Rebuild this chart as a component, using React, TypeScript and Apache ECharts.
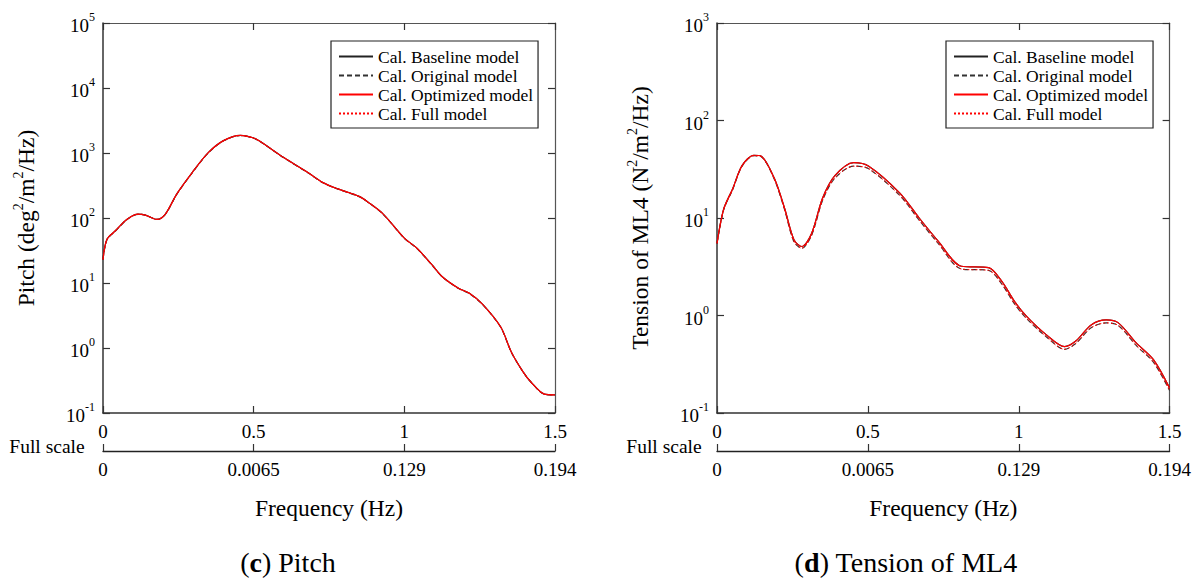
import React, { useEffect, useRef } from "react";
import * as echarts from "echarts";

const FONT = "Liberation Serif, Times New Roman, serif";

const seriesNames = ["Cal. Baseline model", "Cal. Original model", "Cal. Optimized model", "Cal. Full model"];

// (c) Pitch
const pitchFreq = [0, 0.013, 0.04, 0.08, 0.117, 0.143, 0.18, 0.207, 0.245, 0.296, 0.35, 0.4, 0.456, 0.5, 0.527, 0.6, 0.68, 0.73, 0.78, 0.85, 0.88, 0.93, 1.0, 1.04, 1.09, 1.125, 1.18, 1.215, 1.26, 1.32, 1.355, 1.394, 1.42, 1.465, 1.5];
const pitchBaseline = [23, 47, 63, 96, 115, 110, 95, 115, 235, 500, 1020, 1550, 1870, 1700, 1450, 850, 500, 350, 280, 215, 175, 115, 49, 35, 19.5, 12.6, 8.3, 7, 4.7, 2.1, 0.87, 0.43, 0.3, 0.195, 0.19];
const pitchOriginal = [23, 46, 62, 95, 114, 110, 95, 114, 232, 495, 1010, 1540, 1860, 1690, 1440, 845, 495, 348, 278, 213, 174, 114, 48.5, 34.5, 19.3, 12.5, 8.2, 6.9, 4.65, 2.08, 0.86, 0.43, 0.3, 0.194, 0.19];
const pitchOptimized = [23, 47, 63, 96, 115, 110, 95, 115, 235, 500, 1020, 1550, 1870, 1700, 1450, 850, 500, 350, 280, 215, 175, 115, 49, 35, 19.5, 12.6, 8.3, 7, 4.7, 2.1, 0.87, 0.43, 0.3, 0.195, 0.19];
const pitchFull = [23, 46, 62, 95, 114, 110, 95, 114, 232, 495, 1010, 1540, 1860, 1690, 1440, 845, 495, 348, 278, 213, 174, 114, 48.5, 34.5, 19.3, 12.5, 8.2, 6.9, 4.65, 2.08, 0.86, 0.43, 0.3, 0.194, 0.19];

// (d) Tension of ML4
const tensionFreq = [0, 0.022, 0.052, 0.083, 0.122, 0.147, 0.19, 0.224, 0.255, 0.281, 0.313, 0.35, 0.39, 0.453, 0.503, 0.606, 0.67, 0.733, 0.81, 0.9, 0.944, 0.987, 1.026, 1.09, 1.152, 1.19, 1.24, 1.29, 1.33, 1.39, 1.447, 1.5];
const tensionBaseline = [5.5, 12.3, 20, 34.5, 44, 43, 25.5, 12.6, 6.0, 5.1, 6.9, 16, 27, 37, 34, 18, 10, 5.8, 3.2, 3.1, 2.24, 1.38, 0.98, 0.64, 0.48, 0.55, 0.8, 0.9, 0.84, 0.52, 0.35, 0.18];
const tensionOriginal = [5.5, 12.1, 19.6, 34, 43.5, 42.5, 25, 12.2, 5.7, 4.9, 6.6, 15.2, 25.5, 34, 32, 17, 9.5, 5.5, 3.0, 2.9, 2.1, 1.3, 0.93, 0.61, 0.45, 0.52, 0.75, 0.84, 0.79, 0.49, 0.33, 0.17];
const tensionOptimized = [5.5, 12.3, 20, 34.5, 44, 43, 25.5, 12.6, 6.0, 5.1, 6.9, 16, 27, 37, 34, 18, 10, 5.8, 3.2, 3.1, 2.24, 1.38, 0.98, 0.64, 0.48, 0.55, 0.8, 0.9, 0.84, 0.52, 0.35, 0.18];
const tensionFull = [5.5, 12.1, 19.6, 34, 43.5, 42.5, 25, 12.2, 5.7, 4.9, 6.6, 15.2, 25.5, 34, 32, 17, 9.5, 5.5, 3.0, 2.9, 2.1, 1.3, 0.93, 0.61, 0.45, 0.52, 0.75, 0.84, 0.79, 0.49, 0.33, 0.17];

const mainTickLabels = ["0", "0.5", "1", "1.5"];
const fullScaleLabels = ["0", "0.0065", "0.129", "0.194"];

const lineStyles = [
  { color: "#222", width: 1.2, type: "solid" },
  { color: "#333", width: 1.2, type: [5, 3] },
  { color: "#f00", width: 1.2, type: "solid" },
  { color: "#f00", width: 1, type: [2, 2] },
];

function zip(xs: number[], ys: number[]) {
  return xs.map((x, i) => [x, ys[i]]);
}

const tickRich = {
  t: { fontFamily: FONT, fontSize: 19, color: "#000", lineHeight: 22 },
};

function xAxesFor(gi: number) {
  const common = {
    type: "value",
    gridIndex: gi,
    min: 0,
    max: 1.5,
    interval: 0.5,
    splitLine: { show: false },
  };
  return [
    {
      ...common,
      position: "bottom",
      axisLine: { show: true, onZero: false, lineStyle: { color: "#333", width: 1.5 } },
      axisTick: { show: true, inside: true, length: 7, lineStyle: { color: "#333", width: 1.2 } },
      axisLabel: {
        fontFamily: FONT,
        fontSize: 19,
        color: "#000",
        margin: 7,
        formatter: (v: number) => `{t|${mainTickLabels[Math.round(v / 0.5)] ?? ""}}`,
        rich: tickRich,
      },
    },
    {
      ...common,
      position: "top",
      axisLine: { show: true, onZero: false, lineStyle: { color: "#555", width: 1.2 } },
      axisTick: { show: true, inside: true, length: 7, lineStyle: { color: "#333", width: 1.2 } },
      axisLabel: { show: false },
    },
    {
      ...common,
      position: "bottom",
      offset: 38,
      axisLine: { show: true, onZero: false, lineStyle: { color: "#222", width: 1.3 } },
      axisTick: { show: true, inside: true, length: 7, lineStyle: { color: "#333", width: 1.2 } },
      axisLabel: {
        fontFamily: FONT,
        fontSize: 19,
        color: "#000",
        margin: 7,
        formatter: (v: number) => `{t|${fullScaleLabels[Math.round(v / 0.5)] ?? ""}}`,
        rich: tickRich,
      },
      name: "{f|Frequency (Hz)}",
      nameLocation: "middle",
      nameGap: 44,
      nameTextStyle: {
        fontFamily: FONT,
        fontSize: 23.5,
        color: "#000",
        rich: { f: { fontFamily: FONT, fontSize: 23.5, color: "#000", lineHeight: 26 } },
      },
    },
  ];
}

function yAxesFor(gi: number, max: number, split: number, name: string) {
  const common = {
    type: "log",
    logBase: 10,
    gridIndex: gi,
    min: 0.1,
    max,
    splitNumber: split,
    splitLine: { show: false },
    minorTick: { show: false },
  };
  return [
    {
      ...common,
      position: "left",
      axisLine: { show: true, onZero: false, lineStyle: { color: "#333", width: 1.5 } },
      axisTick: { show: true, inside: true, length: 7, lineStyle: { color: "#333", width: 1.2 } },
      axisLabel: {
        margin: 8,
        fontFamily: FONT,
        formatter: (v: number) => `{b|10}{s|${Math.round(Math.log10(v))}}`,
        rich: {
          b: { fontFamily: FONT, fontSize: 19, color: "#000", lineHeight: 24, verticalAlign: "bottom" },
          s: { fontFamily: FONT, fontSize: 12, color: "#000", lineHeight: 12, verticalAlign: "top" },
        },
      },
      name,
      nameLocation: "middle",
      nameGap: 62,
      nameTextStyle: {
        fontFamily: FONT,
        fontSize: 23.5,
        color: "#000",
        lineHeight: 30,
        rich: {
          n: { fontFamily: FONT, fontSize: 23.5, color: "#000", lineHeight: 30 },
          s: { fontFamily: FONT, fontSize: 14, color: "#000", lineHeight: 14, verticalAlign: "top" },
        },
      },
    },
    {
      ...common,
      position: "right",
      axisLine: { show: true, onZero: false, lineStyle: { color: "#555", width: 1.2 } },
      axisTick: { show: true, inside: true, length: 7, lineStyle: { color: "#333", width: 1.2 } },
      axisLabel: { show: false },
    },
  ];
}

function makeSeries(xi: number, yi: number, freq: number[], sets: number[][]) {
  return sets.map((vals, i) => ({
    type: "line",
    name: seriesNames[i],
    xAxisIndex: xi,
    yAxisIndex: yi,
    data: zip(freq, vals),
    symbol: "none",
    smooth: 0.3,
    lineStyle: lineStyles[i],
    itemStyle: { color: lineStyles[i].color },
    z: 2 + i,
  }));
}

function legendAt(left: number) {
  return {
    data: seriesNames,
    orient: "vertical",
    left,
    top: 41,
    itemWidth: 34,
    itemHeight: 12,
    itemGap: 0,
    padding: [6, 5, 5, 7],
    borderColor: "#222",
    borderWidth: 1.2,
    backgroundColor: "#fff",
    selectedMode: false,
    itemStyle: { opacity: 0 },
    textStyle: { fontFamily: FONT, fontSize: 17.5, color: "#000", lineHeight: 19 },
  };
}

function caption(x: number, letter: string, title: string) {
  return {
    type: "text",
    x,
    y: 562,
    style: {
      text: `{n|(}{b|${letter}}{n|) ${title}}`,
      align: "center",
      verticalAlign: "middle",
      rich: {
        n: { fontFamily: FONT, fontSize: 28, fill: "#000" },
        b: { fontFamily: FONT, fontSize: 28, fontWeight: "bold", fill: "#000" },
      },
    },
  };
}

function fullScaleText(x: number) {
  return {
    type: "text",
    x,
    y: 446,
    style: {
      text: "{t|Full scale}",
      align: "center",
      verticalAlign: "middle",
      rich: { t: { fontFamily: FONT, fontSize: 19.5, fill: "#000" } },
    },
  };
}

export default function App() {
  const ref = useRef<HTMLDivElement>(null);
  useEffect(() => {
    if (!ref.current) return;
    const chart = echarts.init(ref.current, null, { renderer: "svg" });
    const option: any = {
      animation: false,
      backgroundColor: "#fff",
      textStyle: { fontFamily: FONT, color: "#000" },
      grid: [
        { left: 103, top: 23, width: 452, height: 390 },
        { left: 717, top: 23, width: 453, height: 390 },
      ],
      xAxis: [...xAxesFor(0), ...xAxesFor(1)],
      yAxis: [
        ...yAxesFor(0, 1e5, 6, "{n|Pitch (deg}{s|2}{n|/m}{s|2}{n|/Hz)}"),
        ...yAxesFor(1, 1e3, 4, "{n|Tension of ML4 (N}{s|2}{n|/m}{s|2}{n|/Hz)}"),
      ],
      legend: [legendAt(331), legendAt(946)],
      series: [
        ...makeSeries(0, 0, pitchFreq, [pitchBaseline, pitchOriginal, pitchOptimized, pitchFull]),
        ...makeSeries(3, 2, tensionFreq, [tensionBaseline, tensionOriginal, tensionOptimized, tensionFull]),
      ],
      graphic: [
        fullScaleText(47),
        fullScaleText(664),
        caption(288, "c", "Pitch"),
        caption(906, "d", "Tension of ML4"),
      ],
    };
    chart.setOption(option);
    return () => chart.dispose();
  }, []);
  return (
    <div
      ref={ref}
      style={{ position: "absolute", left: 0, top: 0, width: 1194, height: 579, background: "#fff" }}
    />
  );
}
